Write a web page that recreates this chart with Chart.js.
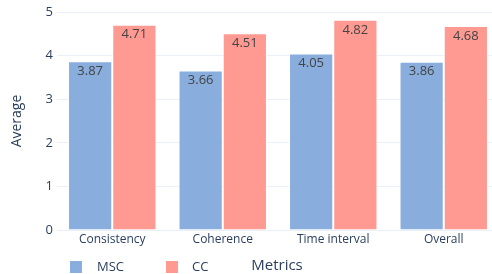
<!DOCTYPE html>
<html>
<head>
<meta charset="utf-8">
<script src="https://cdn.jsdelivr.net/npm/chart.js@4.4.1/dist/chart.umd.min.js"></script>
<style>
  html, body { margin: 0; padding: 0; background: #fff; overflow: hidden; }
  #wrap { width: 492px; height: 274px; overflow: hidden; }
  #box { width: 500px; height: 274px; }
</style>
</head>
<body>
<div id="wrap"><div id="box"><canvas id="metricChart"></canvas></div></div>
<script>
// data
const categories = ['Consistency', 'Coherence', 'Time interval', 'Overall'];
const mscValues = [3.87, 3.66, 4.05, 3.86];
const ccValues = [4.71, 4.51, 4.82, 4.68];
const yTicks = [0, 1, 2, 3, 4, 5];

const FONT = '"Open Sans", "DejaVu Sans", sans-serif';
const TEXT = '#2a3f5f';

// value labels inside the bar tops
const barLabels = {
    id: 'barLabels',
    afterDatasetsDraw(chart) {
        const c = chart.ctx;
        c.save();
        c.font = '13px ' + FONT;
        c.fillStyle = '#444444';
        c.textAlign = 'center';
        c.textBaseline = 'middle';
        chart.data.datasets.forEach((ds, i) => {
            chart.getDatasetMeta(i).data.forEach((bar, j) => {
                c.fillText(ds.data[j].toFixed(2), bar.x, bar.y + 10);
            });
        });
        c.restore();
    }
};

// legend and x title share one row at the bottom, like the original
const bottomRow = {
    id: 'bottomRow',
    afterDraw(chart) {
        const c = chart.ctx;
        c.save();
        const items = [
            { x: 70, tx: 97, ds: chart.data.datasets[0] },
            { x: 166, tx: 192, ds: chart.data.datasets[1] }
        ];
        c.textBaseline = 'middle';
        c.font = '13px ' + FONT;
        items.forEach(it => {
            c.fillStyle = it.ds.backgroundColor;
            c.fillRect(it.x, 261, 12, 12);
            c.fillStyle = TEXT;
            c.textAlign = 'left';
            c.fillText(it.ds.label, it.tx, 267);
        });
        c.font = '15px ' + FONT;
        c.textAlign = 'center';
        c.fillText('Metrics', 277, 266);
        c.restore();
    }
};

new Chart(document.getElementById('metricChart'), {
    type: 'bar',
    data: {
        labels: categories,
        datasets: [
            {
                label: 'MSC',
                data: mscValues,
                backgroundColor: '#89addd',
                borderColor: 'rgba(255,255,255,0.6)',
                borderWidth: 1
            },
            {
                label: 'CC',
                data: ccValues,
                backgroundColor: '#fe9a92',
                borderColor: 'rgba(255,255,255,0.6)',
                borderWidth: 1
            }
        ]
    },
    options: {
        responsive: true,
        maintainAspectRatio: false,
        animation: false,
        categoryPercentage: 0.8,
        barPercentage: 1.0,
        layout: { padding: { top: 12, right: 1, left: 0, bottom: 0 } },
        plugins: {
            legend: { display: false },
            tooltip: { enabled: false }
        },
        scales: {
            x: {
                grid: { display: false, drawTicks: false },
                border: { display: false },
                ticks: { color: TEXT, font: { family: FONT, size: 12 }, padding: 2 },
                afterFit: s => { s.height = 44; }
            },
            y: {
                min: 0,
                max: 5,
                afterBuildTicks: s => { s.ticks = yTicks.map(v => ({ value: v })); },
                grid: { color: '#ebf0f8', drawTicks: false },
                border: { display: false },
                ticks: { color: TEXT, font: { family: FONT, size: 13 }, padding: 4 },
                title: {
                    display: true,
                    text: 'Average',
                    color: TEXT,
                    font: { family: FONT, size: 14 },
                    padding: { top: 9, bottom: 0 }
                },
                afterFit: s => { s.width = 57; }
            }
        }
    },
    plugins: [barLabels, bottomRow]
});
</script>
</body>
</html>
